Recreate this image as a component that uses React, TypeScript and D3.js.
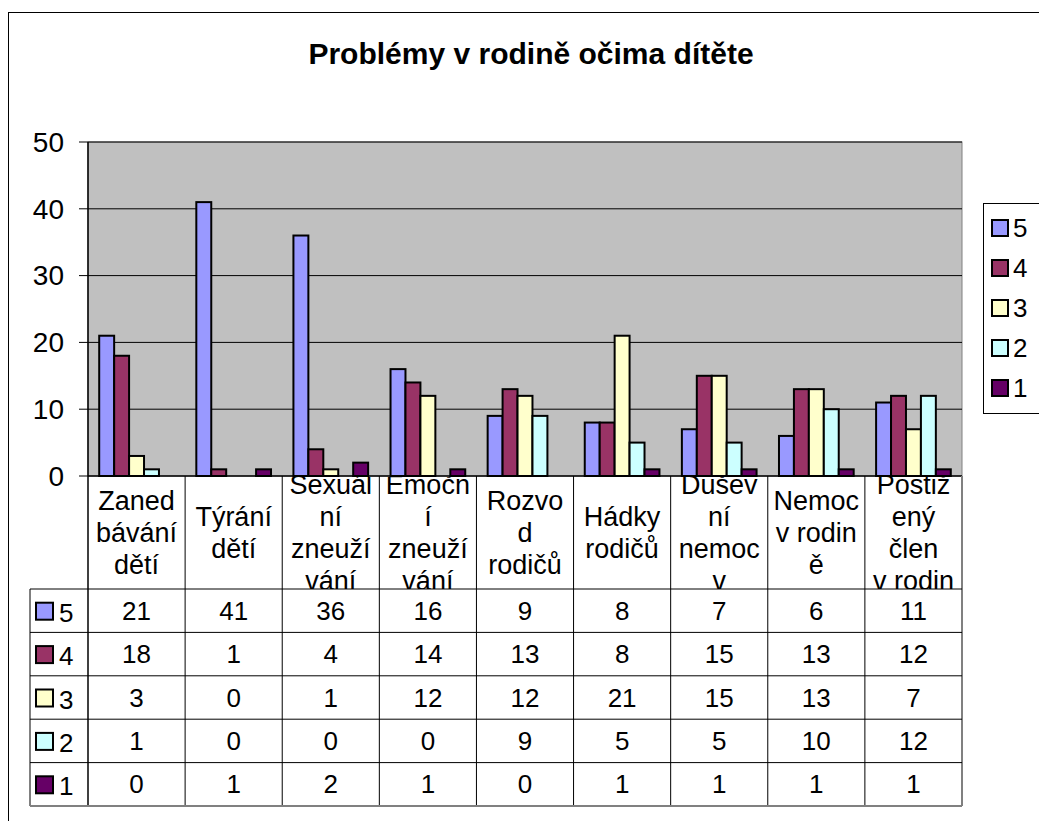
import React from "react";
import * as d3 from "d3";

const categories = [
  ["Zaned", "bávání", "dětí"],
  ["Týrání", "dětí"],
  ["Sexuál", "ní", "zneuží", "vání"],
  ["Emočn", "í", "zneuží", "vání"],
  ["Rozvo", "d", "rodičů"],
  ["Hádky", "rodičů"],
  ["Dušev", "ní", "nemoc", "v"],
  ["Nemoc", "v rodin", "ě"],
  ["Postiž", "ený", "člen", "v rodin"],
];

const seriesNames = ["5", "4", "3", "2", "1"];
const s5 = [21, 41, 36, 16, 9, 8, 7, 6, 11];
const s4 = [18, 1, 4, 14, 13, 8, 15, 13, 12];
const s3 = [3, 0, 1, 12, 12, 21, 15, 13, 7];
const s2 = [1, 0, 0, 0, 9, 5, 5, 10, 12];
const s1 = [0, 1, 2, 1, 0, 1, 1, 1, 1];
const yTicks = [0, 10, 20, 30, 40, 50];
const colors = ["#9999FF", "#993366", "#FFFFCC", "#CCFFFF", "#660066"];

const values = [s5, s4, s3, s2, s1];
const font = "Arial, 'Liberation Sans', sans-serif";

export default function App() {
  const left = 88;
  const right = 962;
  const top = 142;
  const bottom = 476;
  const tableTop = 589;
  const rowH = 43.4;
  const tableLeft = 30;

  const x = d3
    .scaleBand<number>()
    .domain(d3.range(categories.length))
    .range([left, right])
    .padding(0);
  const xs = d3
    .scaleBand<string>()
    .domain(seriesNames)
    .range([0, x.bandwidth()])
    .paddingInner(0)
    .paddingOuter(0.75);
  const y = d3.scaleLinear().domain([0, 50]).range([bottom, top]);

  const tableBottom = tableTop + rowH * seriesNames.length;

  return (
    <svg
      width={1039}
      height={821}
      style={{ position: "absolute", left: 0, top: 0, fontFamily: font }}
    >
      <rect x={0} y={0} width={1039} height={821} fill="#fff" />
      <rect x={8.5} y={12.5} width={1100} height={900} fill="none" stroke="#000" />

      <text x={531} y={64} textAnchor="middle" fontSize={30} fontWeight="bold">
        Problémy v rodině očima dítěte
      </text>

      {/* plot area */}
      <rect x={left} y={top} width={right - left} height={bottom - top} fill="#C0C0C0" stroke="#808080" />
      {yTicks.map((t) => (
        <g key={t}>
          {t > 0 && <line x1={left} x2={right} y1={y(t)} y2={y(t)} stroke="#000" />}
          <line x1={79} x2={left} y1={y(t)} y2={y(t)} stroke="#000" />
          <text x={64} y={y(t)} dy="0.35em" textAnchor="end" fontSize={28}>
            {t}
          </text>
        </g>
      ))}

      {values.map((vals, si) =>
        vals.map((v, ci) => (
          <rect
            key={`${si}-${ci}`}
            x={x(ci)! + xs(seriesNames[si])!}
            y={y(v)}
            width={xs.bandwidth()}
            height={y(0) - y(v)}
            fill={colors[si]}
            stroke="#000"
            strokeWidth={2}
          />
        ))
      )}
      <line x1={left} x2={left} y1={top} y2={tableBottom} stroke="#000" strokeWidth={1.5} />
      <line x1={left} x2={right} y1={bottom} y2={bottom} stroke="#000" strokeWidth={1.5} />

      {/* category labels */}
      <defs>
        {categories.map((_, ci) => (
          <clipPath id={`clip${ci}`} key={ci}>
            <rect x={x(ci)!} y={bottom + 1} width={x.bandwidth()} height={tableTop - bottom - 1} />
          </clipPath>
        ))}
      </defs>
      {categories.map((lines, ci) => {
        const cx = x(ci)! + x.bandwidth() / 2;
        const cy = (bottom + tableTop) / 2;
        const lh = 32;
        return (
          <g key={ci} clipPath={`url(#clip${ci})`}>
            {lines.map((l, li) => (
              <text
                key={li}
                x={cx}
                y={cy + (li - (lines.length - 1) / 2) * lh}
                dy="0.35em"
                textAnchor="middle"
                fontSize={27}
              >
                {l}
              </text>
            ))}
          </g>
        );
      })}

      {/* data table */}
      {categories.map((_, ci) => (
        <line
          key={ci}
          x1={x(ci)! + x.bandwidth()}
          x2={x(ci)! + x.bandwidth()}
          y1={bottom}
          y2={tableBottom}
          stroke={ci === categories.length - 1 ? "#808080" : "#000"}
          strokeWidth={ci === categories.length - 1 ? 2 : 1}
        />
      ))}
      <line x1={tableLeft} x2={tableLeft} y1={tableTop} y2={tableBottom} stroke="#000" />
      {seriesNames.map((s, si) => {
        const ry = tableTop + si * rowH;
        return (
          <g key={s}>
            <line x1={tableLeft} x2={right} y1={ry} y2={ry} stroke="#000" />
            <rect x={36} y={ry + rowH / 2 - 8} width={17} height={17} fill={colors[si]} stroke="#000" strokeWidth={2} />
            <text x={59} y={ry + rowH / 2 + 2} dy="0.35em" fontSize={26}>
              {s}
            </text>
            {values[si].map((v, ci) => (
              <text
                key={ci}
                x={x(ci)! + x.bandwidth() / 2}
                y={ry + rowH / 2}
                dy="0.35em"
                textAnchor="middle"
                fontSize={26}
              >
                {v}
              </text>
            ))}
          </g>
        );
      })}
      <line x1={tableLeft} x2={right} y1={tableBottom} y2={tableBottom} stroke="#808080" strokeWidth={2} />

      {/* legend */}
      <rect x={983.5} y={203.5} width={60} height={210} fill="#fff" stroke="#000" />
      {seriesNames.map((s, si) => (
        <g key={s}>
          <rect x={992} y={220 + si * 40} width={16} height={16} fill={colors[si]} stroke="#000" strokeWidth={2} />
          <text x={1013} y={228 + si * 40} dy="0.35em" fontSize={26}>
            {s}
          </text>
        </g>
      ))}
    </svg>
  );
}
